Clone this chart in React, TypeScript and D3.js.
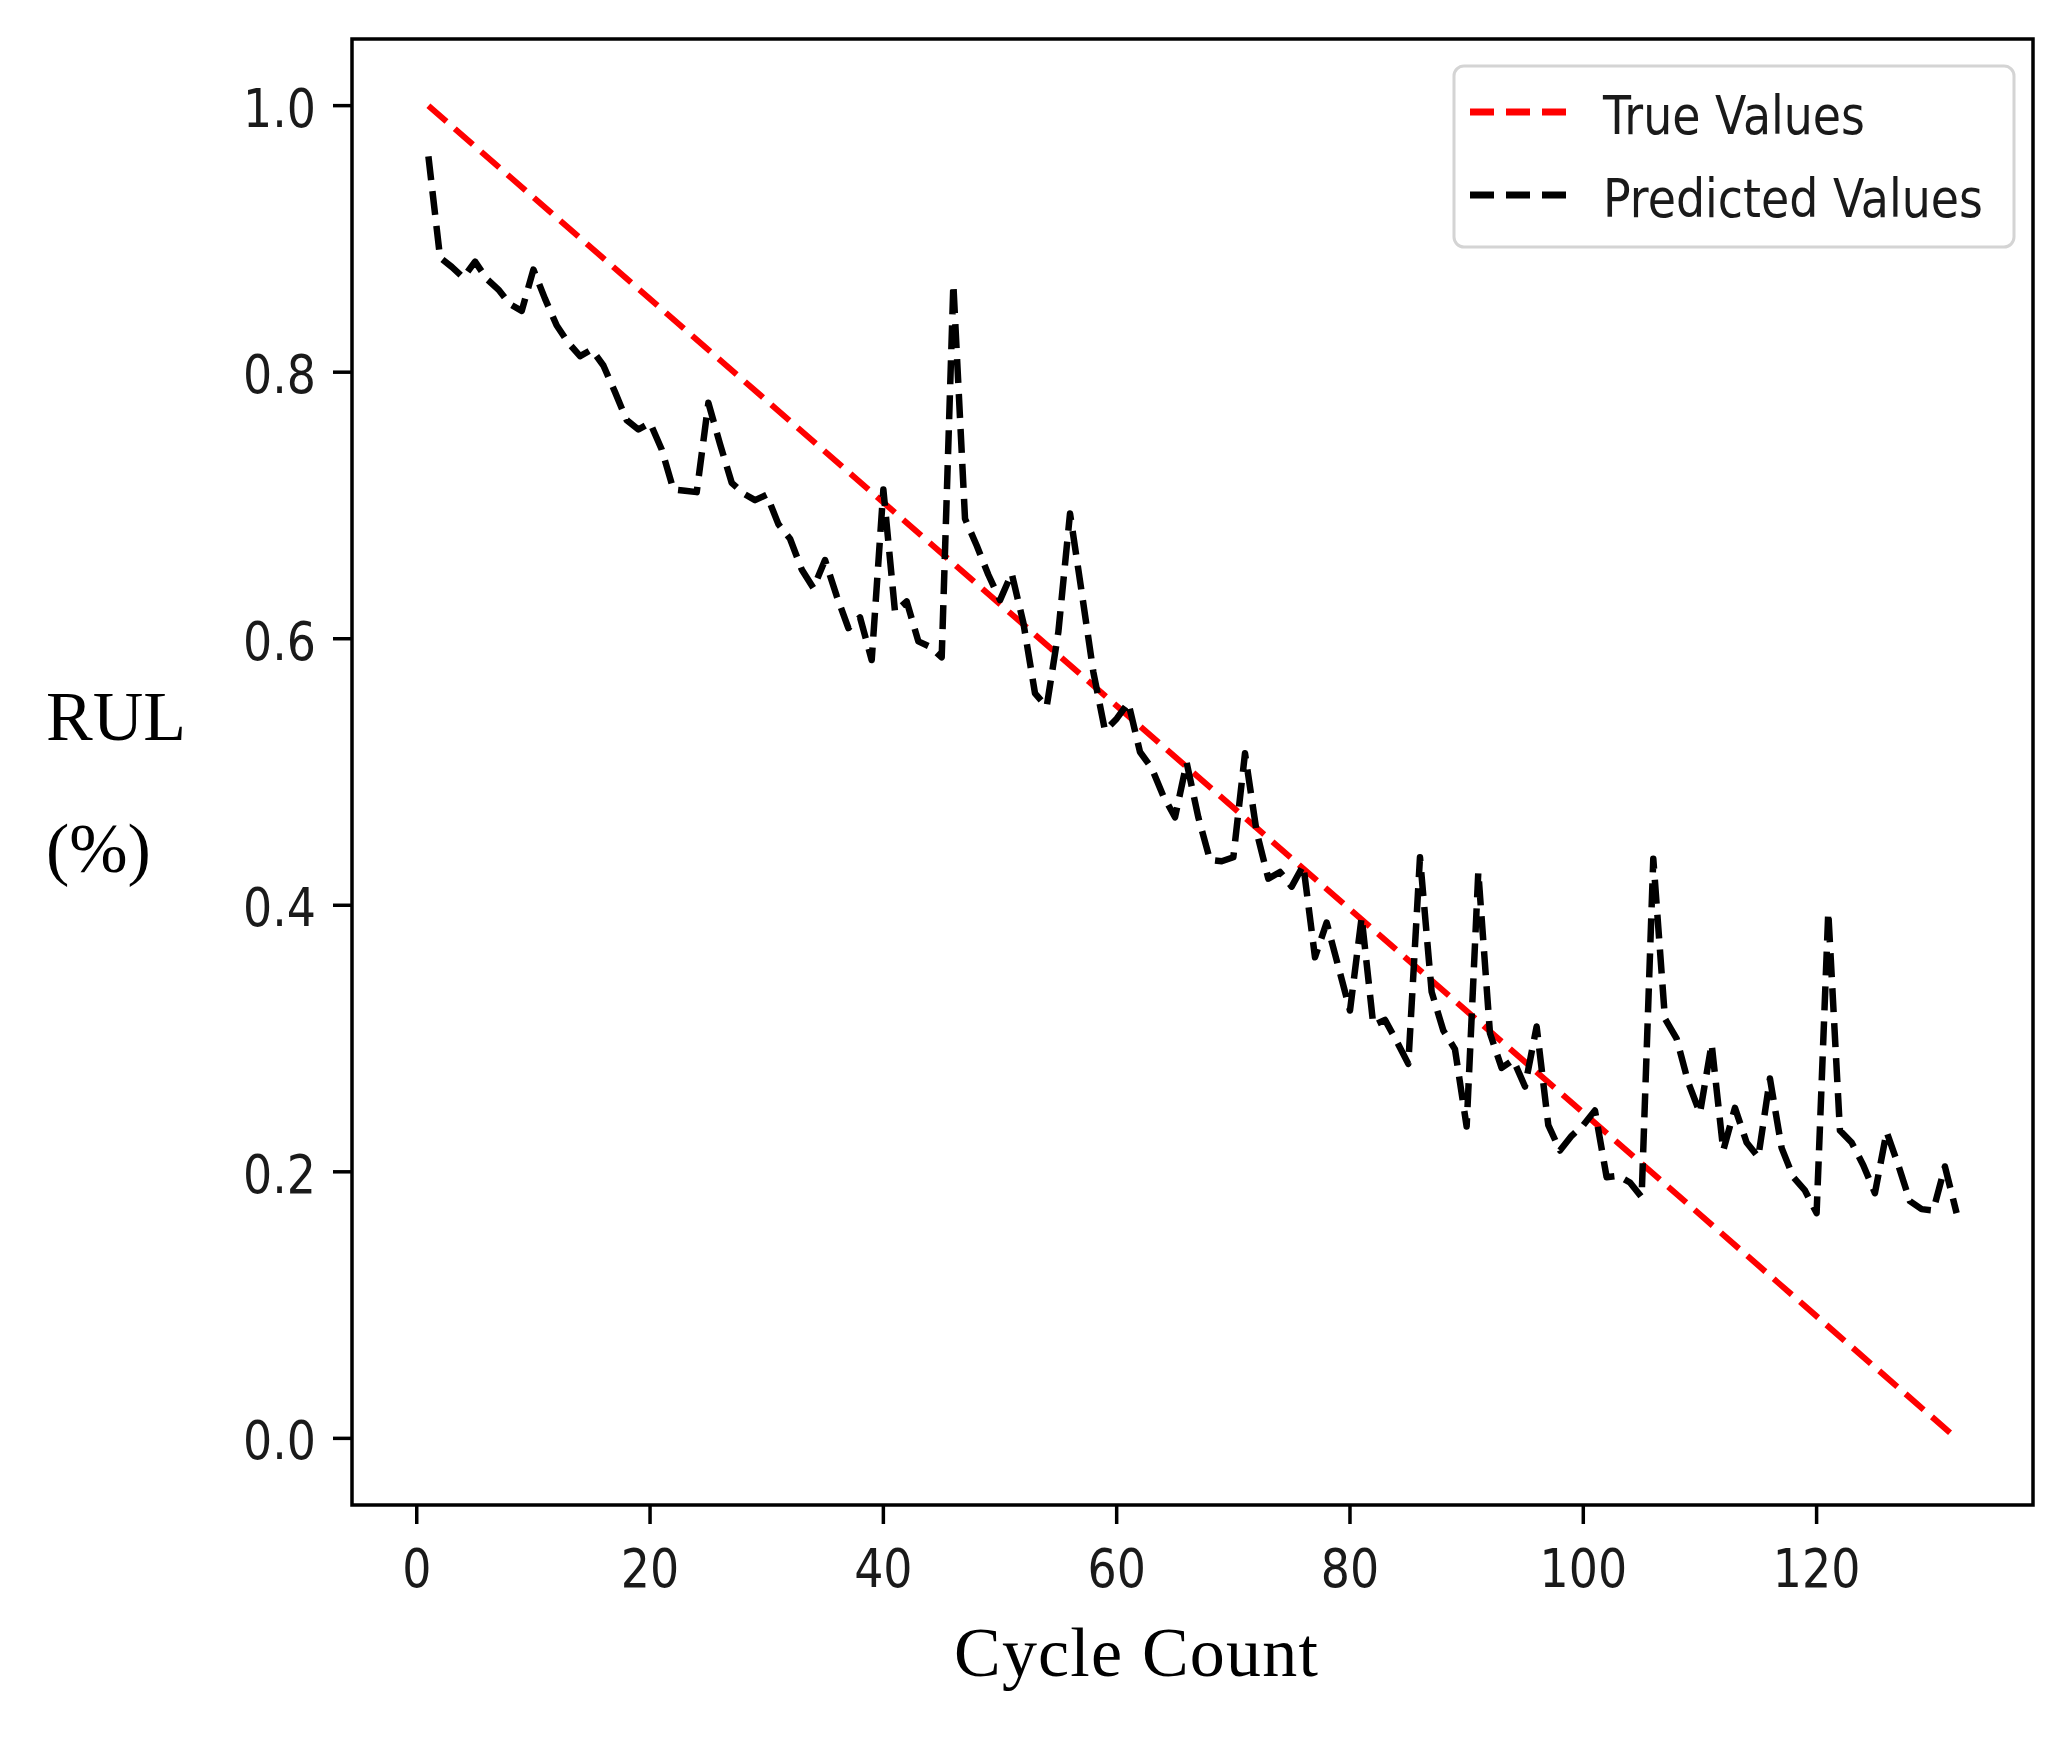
import * as d3 from 'd3';

// values, one per cycle starting at cycle 1
const predictedValues = [
  0.962, 0.886, 0.879, 0.871, 0.883, 0.870, 0.862, 0.851, 0.846, 0.877,
  0.855, 0.835, 0.822, 0.812, 0.817, 0.805, 0.785, 0.764, 0.757, 0.762,
  0.742, 0.712, 0.711, 0.710, 0.777, 0.746, 0.717, 0.709, 0.704, 0.708,
  0.686, 0.675, 0.652, 0.638, 0.659, 0.632, 0.608, 0.616, 0.584, 0.712,
  0.620, 0.628, 0.598, 0.594, 0.586, 0.866, 0.690, 0.670, 0.648, 0.629,
  0.649, 0.612, 0.559, 0.549, 0.605, 0.694, 0.635, 0.575, 0.531, 0.540,
  0.552, 0.515, 0.503, 0.482, 0.466, 0.507, 0.466, 0.434, 0.433, 0.436,
  0.514, 0.455, 0.420, 0.425, 0.414, 0.430, 0.361, 0.387, 0.354, 0.321,
  0.391, 0.310, 0.314, 0.298, 0.281, 0.436, 0.335, 0.306, 0.292, 0.234,
  0.425, 0.304, 0.278, 0.284, 0.264, 0.309, 0.235, 0.216, 0.227, 0.235,
  0.246, 0.196, 0.197, 0.192, 0.181, 0.435, 0.315, 0.300, 0.267, 0.244,
  0.296, 0.216, 0.248, 0.222, 0.211, 0.270, 0.218, 0.196, 0.186, 0.169,
  0.395, 0.231, 0.222, 0.205, 0.184, 0.230, 0.205, 0.178, 0.172, 0.171,
  0.204, 0.169,
];

// the true RUL is a straight line from its first to its last cycle
const trueCycles = [1, 132];
const trueValues = [1.0, 0.0];

const xTicks = [0, 20, 40, 60, 80, 100, 120];
const yTicks = [0.0, 0.2, 0.4, 0.6, 0.8, 1.0];
const legendItems = [
  { label: 'True Values', color: '#ff0000' },
  { label: 'Predicted Values', color: '#000000' },
];

const W = 2068;
const H = 1738;
const PLOT = { left: 352, right: 2033, top: 39, bottom: 1505 };
const TICK_FONT = '"DejaVu Sans", Verdana, sans-serif';
const LABEL_FONT = '"Liberation Serif", "DejaVu Serif", serif';
const SQUEEZE = 0.85; // the source picture is narrower than its text
const DASH = '24 11';

type Pt = [number, number];

function Squeezed({ x, y, anchor, children }: { x: number; y: number; anchor: 'start' | 'middle' | 'end'; children: string }) {
  return (
    <text
      transform={`translate(${x},${y}) scale(${SQUEEZE},1)`}
      textAnchor={anchor}
      fontFamily={TICK_FONT}
      fontSize={54}
      fill="#1a1a1a"
    >
      {children}
    </text>
  );
}

export default function App() {
  const x = d3.scaleLinear().domain([-5.55, 138.55]).range([PLOT.left, PLOT.right]);
  const y = d3.scaleLinear().domain([-0.05, 1.05]).range([PLOT.bottom, PLOT.top]);

  const line = d3.line<Pt>()
    .x((d) => x(d[0]))
    .y((d) => y(d[1]));

  const predicted: Pt[] = predictedValues.map((v, i) => [i + 1, v]);
  const truth: Pt[] = trueCycles.map((c, i) => [c, trueValues[i]]);

  const fmt = d3.format('.1f');

  return (
    <div style={{ position: 'absolute', left: 0, top: 0 }}>
      <svg width={W} height={H} viewBox={`0 0 ${W} ${H}`} style={{ display: 'block', background: '#fff' }}>
        <rect x={0} y={0} width={W} height={H} fill="#fff" />

        {/* series */}
        <path d={line(truth) ?? ''} fill="none" stroke="#ff0000" strokeWidth={6} strokeDasharray={DASH} />
        <path d={line(predicted) ?? ''} fill="none" stroke="#000" strokeWidth={6.5} strokeDasharray={DASH} strokeLinejoin="round" />

        {/* frame */}
        <rect
          x={PLOT.left}
          y={PLOT.top}
          width={PLOT.right - PLOT.left}
          height={PLOT.bottom - PLOT.top}
          fill="none"
          stroke="#000"
          strokeWidth={3.5}
        />

        {/* x axis */}
        {xTicks.map((t) => (
          <g key={`x${t}`}>
            <line x1={x(t)} x2={x(t)} y1={PLOT.bottom} y2={PLOT.bottom + 19} stroke="#000" strokeWidth={3.5} />
            <Squeezed x={x(t)} y={1587} anchor="middle">{String(t)}</Squeezed>
          </g>
        ))}

        {/* y axis */}
        {yTicks.map((t) => (
          <g key={`y${t}`}>
            <line x1={PLOT.left - 19} x2={PLOT.left} y1={y(t)} y2={y(t)} stroke="#000" strokeWidth={3.5} />
            <Squeezed x={316} y={y(t) + 21} anchor="end">{fmt(t)}</Squeezed>
          </g>
        ))}

        {/* axis titles */}
        <text x={46} y={740} fontFamily={LABEL_FONT} fontSize={70} fill="#000">RUL</text>
        <text x={46} y={872} fontFamily={LABEL_FONT} fontSize={70} fill="#000">(%)</text>
        <text x={954} y={1676} fontFamily={LABEL_FONT} fontSize={70} letterSpacing={1.2} fill="#000">Cycle Count</text>

        {/* legend */}
        <g>
          <rect x={1454} y={66} width={560} height={181} rx={10} ry={10} fill="#fff" fillOpacity={0.8} stroke="#d4d4d4" strokeWidth={3} />
          {legendItems.map((item, i) => {
            const cy = 112 + i * 83;
            return (
              <g key={item.label}>
                <line x1={1470} x2={1566} y1={cy} y2={cy} stroke={item.color} strokeWidth={7} strokeDasharray="24 12" />
                <Squeezed x={1603} y={cy + 22} anchor="start">{item.label}</Squeezed>
              </g>
            );
          })}
        </g>
      </svg>
    </div>
  );
}
